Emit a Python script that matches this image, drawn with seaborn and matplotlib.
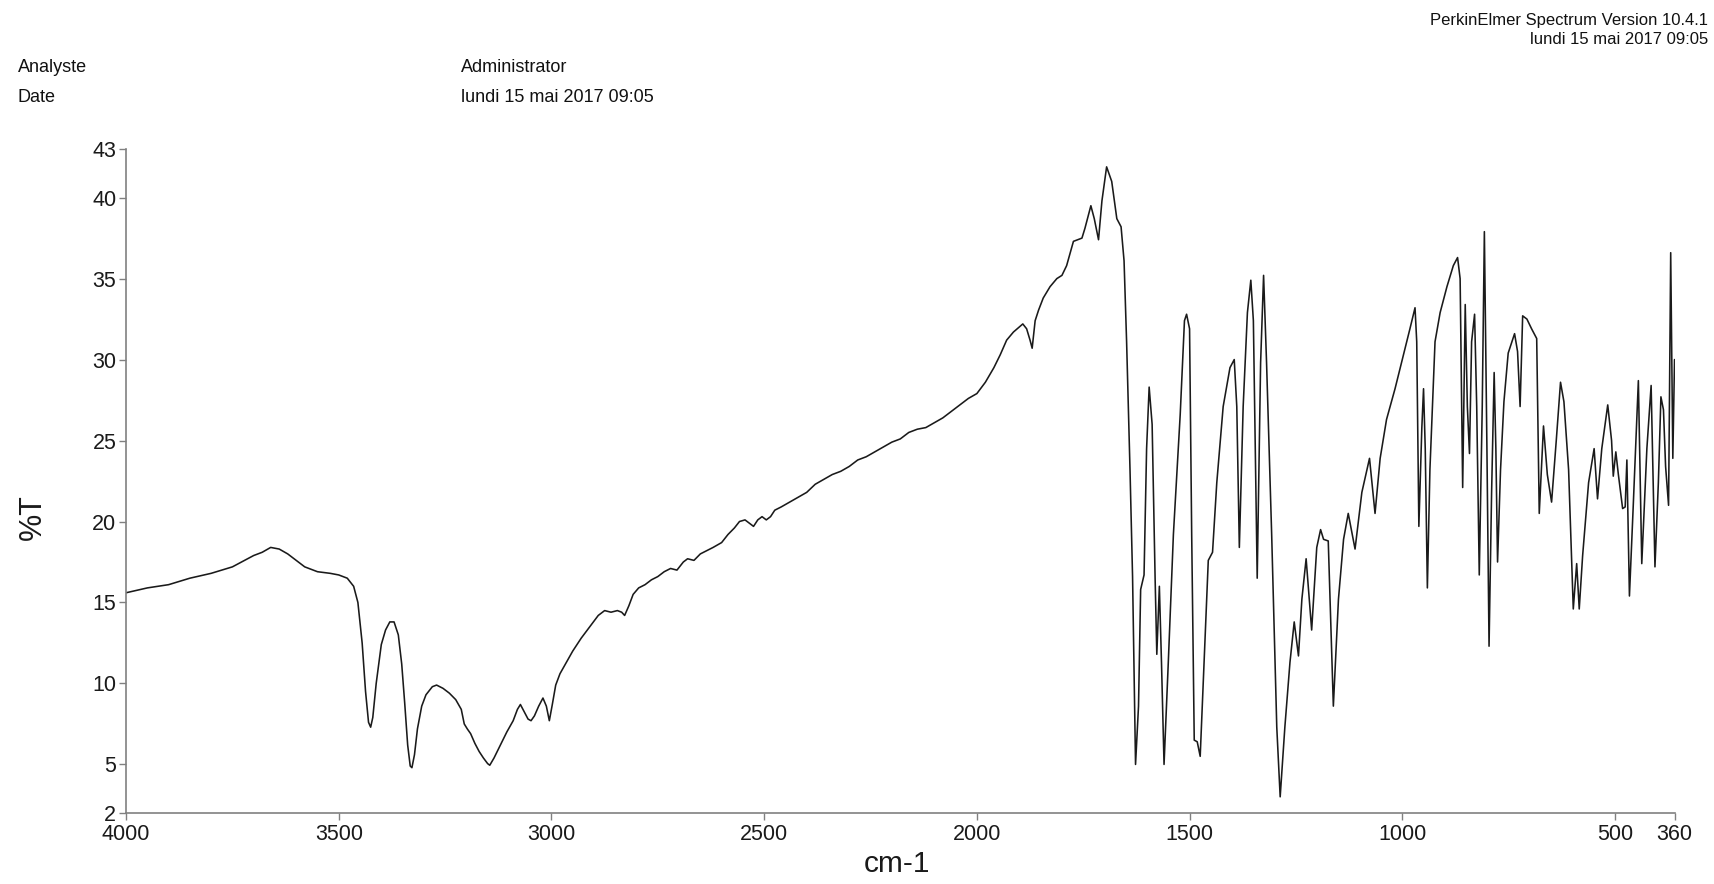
import matplotlib
matplotlib.use('Agg')
import matplotlib.pyplot as plt
import seaborn as sns
import pandas as pd

# ---- data ----
wavenumber = [
    4000, 3950, 3900, 3850, 3800, 3750, 3700, 3680, 3660, 3640, 3620, 3600, 3580, 3550, 3520,
    3500, 3480, 3465, 3455, 3445, 3437, 3430, 3425, 3420, 3412, 3400, 3390, 3380, 3370, 3360,
    3352, 3345, 3338, 3332, 3328, 3322, 3315, 3305, 3295, 3280, 3270, 3255, 3240, 3225, 3212,
    3205, 3198, 3190, 3180, 3170, 3160, 3150, 3145, 3135, 3120, 3105, 3090, 3080, 3073, 3065,
    3055, 3048, 3040, 3030, 3020, 3012, 3005, 2998, 2990, 2980, 2965, 2950, 2930, 2910, 2890,
    2875, 2860, 2845, 2835, 2828, 2818, 2808, 2795, 2780, 2765, 2750, 2735, 2720, 2705, 2690,
    2680, 2665, 2650, 2635, 2620, 2600, 2585, 2570, 2558, 2545, 2535, 2525, 2515, 2505, 2495,
    2485, 2475, 2460, 2440, 2420, 2400, 2380, 2360, 2340, 2320, 2300, 2280, 2260, 2240, 2220,
    2200, 2180, 2160, 2140, 2120, 2100, 2080, 2060, 2040, 2020, 2000, 1980, 1960,
    1945, 1930, 1914, 1892, 1883, 1875, 1870, 1863, 1855, 1844, 1828, 1812, 1800, 1789, 1773,
    1753, 1746, 1732, 1724, 1714, 1706, 1695, 1683, 1671, 1661, 1654, 1648, 1640, 1634, 1627,
    1620, 1615, 1607, 1601, 1595, 1588, 1581, 1577, 1571, 1566, 1560, 1550, 1538, 1522, 1512,
    1507, 1500, 1495, 1489, 1482, 1475, 1466, 1456, 1446, 1436, 1421, 1405, 1395, 1389, 1383,
    1374, 1364, 1356, 1350, 1341, 1333, 1326, 1319, 1307, 1295, 1287, 1276, 1264, 1254, 1244,
    1236, 1226, 1213, 1201, 1192, 1185, 1174, 1162, 1150, 1138, 1127, 1111, 1095,
    1077, 1064, 1052, 1037, 1017, 997, 982, 970, 966, 961, 954, 950, 946, 941, 935,
    923, 911, 895, 880, 870, 864, 858, 852, 847, 842, 837, 830, 825, 819, 812,
    807, 801, 796, 790, 784, 780, 776, 769, 761, 751, 736, 729, 723, 717, 707,
    696, 684, 678, 668, 659, 649, 638, 628, 620, 609, 598, 590, 584, 576, 562,
    549, 541, 531, 517, 508, 504, 498, 492, 482, 476, 472, 466, 457, 445, 437,
    425, 415, 406, 398, 392, 386, 381, 374, 369, 364, 360,
]
transmittance = [
    15.6, 15.9, 16.1, 16.5, 16.8, 17.2, 17.9, 18.1, 18.4, 18.3, 18.0, 17.6, 17.2, 16.9, 16.8,
    16.7, 16.5, 16.0, 15.0, 12.5, 9.5, 7.6, 7.3, 7.9, 10.0, 12.4, 13.3, 13.8, 13.8, 13.0,
    11.2, 8.8, 6.2, 4.9, 4.8, 5.6, 7.2, 8.6, 9.3, 9.8, 9.9, 9.7, 9.4, 9.0, 8.4,
    7.5, 7.2, 6.9, 6.3, 5.8, 5.4, 5.05, 4.95, 5.4, 6.2, 7.0, 7.7, 8.4, 8.7, 8.3,
    7.8, 7.7, 8.0, 8.6, 9.1, 8.6, 7.7, 8.7, 9.9, 10.6, 11.3, 12.0, 12.8, 13.5, 14.2,
    14.5, 14.4, 14.5, 14.4, 14.2, 14.8, 15.5, 15.9, 16.1, 16.4, 16.6, 16.9, 17.1, 17.0, 17.5,
    17.7, 17.6, 18.0, 18.2, 18.4, 18.7, 19.2, 19.6, 20.0, 20.1, 19.9, 19.7, 20.1, 20.3, 20.1,
    20.3, 20.7, 20.9, 21.2, 21.5, 21.8, 22.3, 22.6, 22.9, 23.1, 23.4, 23.8, 24.0, 24.3, 24.6,
    24.9, 25.1, 25.5, 25.7, 25.8, 26.1, 26.4, 26.8, 27.2, 27.6, 27.9, 28.6, 29.5,
    30.3, 31.2, 31.7, 32.2, 31.9, 31.2, 30.7, 32.4, 33.05, 33.8, 34.5, 35.0, 35.2, 35.8, 37.3,
    37.5, 38.1, 39.5, 38.7, 37.4, 39.8, 41.9, 41.0, 38.7, 38.2, 36.1, 31.1, 23.2, 16.6, 5.0,
    8.6, 15.8, 16.7, 24.5, 28.3, 26.0, 16.5, 11.8, 16.0, 11.3, 5.0, 11.3, 19.2, 26.6, 32.4,
    32.8, 31.9, 19.2, 6.5, 6.4, 5.5, 11.3, 17.6, 18.1, 22.4, 27.1, 29.5, 30.0, 27.1, 18.4,
    27.1, 32.9, 34.9, 32.4, 16.5, 29.8, 35.2, 29.8, 19.2, 7.3, 3.0, 7.3, 11.3, 13.8, 11.7,
    15.2, 17.7, 13.3, 18.4, 19.5, 18.9, 18.8, 8.6, 15.2, 18.9, 20.5, 18.3, 21.8,
    23.9, 20.5, 23.9, 26.3, 28.2, 30.3, 31.9, 33.2, 31.1, 19.7, 25.8, 28.2, 24.5, 15.9, 23.2,
    31.1, 32.9, 34.5, 35.8, 36.3, 35.0, 22.1, 33.4, 27.1, 24.2, 31.1, 32.8, 27.1, 16.7, 27.1,
    37.9, 24.5, 12.3, 21.8, 29.2, 24.5, 17.5, 23.2, 27.4, 30.4, 31.6, 30.5, 27.1, 32.7, 32.5,
    31.9, 31.3, 20.5, 25.9, 22.9, 21.2, 25.0, 28.6, 27.4, 23.2, 14.6, 17.4, 14.6, 17.9, 22.4,
    24.5, 21.4, 24.5, 27.2, 25.0, 22.8, 24.3, 22.9, 20.8, 20.9, 23.8, 15.4, 21.0, 28.7, 17.4,
    24.5, 28.4, 17.2, 22.4, 27.7, 26.9, 23.4, 21.0, 36.6, 23.9, 30.0,
]
x_ticks = [4000, 3500, 3000, 2500, 2000, 1500, 1000, 500, 360]
y_ticks = [2, 5, 10, 15, 20, 25, 30, 35, 40, 43]

# ---- style ----
sns.set_style('ticks')
plt.rcParams['font.family'] = ['Liberation Sans', 'DejaVu Sans']

fig = plt.figure(figsize=(17.15, 8.84), dpi=100)
ax = fig.add_axes([0.0735, 0.0803, 0.9029, 0.7511])

df = pd.DataFrame({'cm-1': wavenumber, '%T': transmittance})
sns.lineplot(data=df, x='cm-1', y='%T', ax=ax, color='#1a1a1a',
             linewidth=1.15, estimator=None, sort=False)

ax.set_xlim(4000, 360)
ax.set_ylim(2, 43)
ax.set_xticks(x_ticks)
ax.set_xticklabels([str(t) for t in x_ticks])
ax.set_yticks(y_ticks)
ax.set_yticklabels([str(t) for t in y_ticks])
ax.tick_params(axis='both', labelsize=15.5, length=5, width=1.0,
               color='#808080', labelcolor='#1a1a1a')
ax.tick_params(axis='x', pad=3)
ax.tick_params(axis='y', pad=2)

sns.despine(ax=ax)
for s in ('left', 'bottom'):
    ax.spines[s].set_color('#808080')
    ax.spines[s].set_linewidth(1.2)

ax.set_xlabel('cm-1', fontsize=21.5, color='#1a1a1a')
ax.xaxis.label.set_va('center')
ax.xaxis.set_label_coords(0.498, -0.077)
ax.set_ylabel('%T', fontsize=22, color='#1a1a1a')
ax.yaxis.label.set_va('center')
ax.yaxis.set_label_coords(-0.060, 0.446)

# ---- header texts ----
W, H = 1715.0, 884.0
fig.text(17.5 / W, 1 - 68 / H, 'Analyste', fontsize=13, va='center', ha='left', color='#111111')
fig.text(17.5 / W, 1 - 98 / H, 'Date', fontsize=13, va='center', ha='left', color='#111111')
fig.text(461 / W, 1 - 68 / H, 'Administrator', fontsize=13, va='center', ha='left', color='#111111')
fig.text(461 / W, 1 - 98 / H, 'lundi 15 mai 2017 09:05', fontsize=13, va='center', ha='left', color='#111111')
fig.text(1708 / W, 1 - 21 / H, 'PerkinElmer Spectrum Version 10.4.1', fontsize=12,
         va='center', ha='right', color='#111111')
fig.text(1708 / W, 1 - 40 / H, 'lundi 15 mai 2017 09:05', fontsize=12,
         va='center', ha='right', color='#111111')

fig.savefig('out.png', dpi=100)
